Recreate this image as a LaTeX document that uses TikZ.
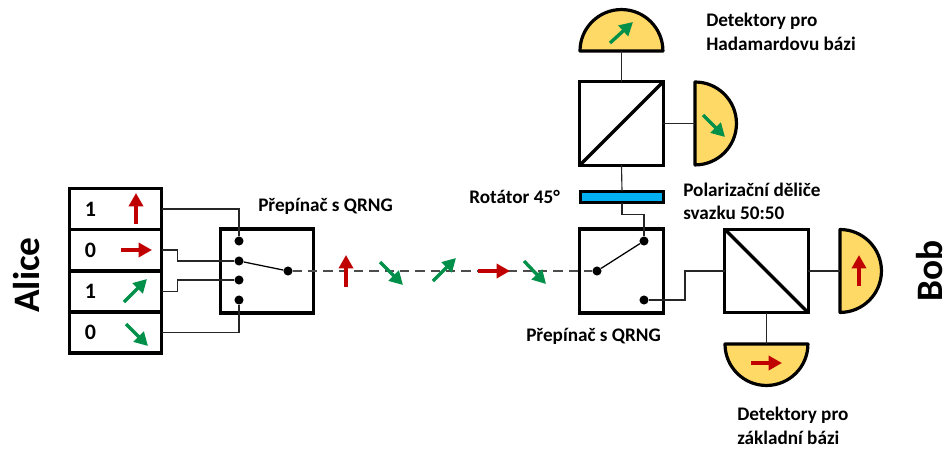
\documentclass[tikz,border=0pt]{standalone}
\usepackage{fontspec}
\setmainfont{Carlito}
\usetikzlibrary{arrows.meta,calc}
\definecolor{redA}{HTML}{C00000}
\definecolor{greenA}{HTML}{00904A}
\definecolor{blueA}{HTML}{00B0F0}
\definecolor{yellowA}{HTML}{FFD966}
\tikzset{
  box/.style={draw=black,line width=2.4pt,fill=white,inner sep=0pt,outer sep=0pt},
  rowbox/.style={box,minimum width=69.4pt,minimum height=30.8pt},
  swbox/.style={box,minimum width=69.4pt,minimum height=63pt},
  cube/.style={box,minimum width=62.5pt,minimum height=62.5pt},
  rotbox/.style={box,fill=blueA,minimum width=62.5pt,minimum height=8.8pt},
  dot/.style={circle,fill=black,inner sep=0pt,minimum size=6.8pt},
  wire/.style={draw=black!85,line width=.85pt},
  arm/.style={draw=black,line width=.95pt},
  beam/.style={draw=black!70,line width=.95pt,dash pattern=on 7pt off 4.5pt},
  split/.style={draw=black,line width=2.4pt,line cap=round},
  detector/.style={draw=black,line width=2.4pt,fill=yellowA,line join=round},
  pol/.style={line width=2.5pt,-{Triangle[length=10pt,width=10.5pt]}},
  redpol/.style={pol,draw=redA,color=redA},
  greenpol/.style={pol,draw=greenA,color=greenA},
  lab/.style={font=\bfseries\fontsize{14.4}{17}\selectfont,inner sep=0pt,anchor=west},
  digit/.style={font=\bfseries\fontsize{16.5}{20}\selectfont,inner sep=0pt},
  who/.style={font=\bfseries\fontsize{28}{33}\selectfont,inner sep=0pt,rotate=90},
}
\begin{document}
\begin{tikzpicture}[x=.75pt,y=-.75pt]
\useasboundingbox (0,0) rectangle (947,450);
\fill[white] (0,0) rectangle (947,450);
% Alice rows
\node[rowbox] (r1) at (115.5,209) {};
\node[rowbox] (r2) at (115.5,250) {};
\node[rowbox] (r3) at (115.5,291.5) {};
\node[rowbox] (r4) at (115.5,332.5) {};
\node[digit] (n1) at (90.5,209) {1};
\node[digit] (n2) at (90.5,250) {0};
\node[digit] (n3) at (90.5,291.5) {1};
\node[digit] (n4) at (90.5,332.5) {0};
\draw[redpol] (136,224) -- (136,193);
\draw[redpol] (121,250) -- (152,250);
\draw[greenpol] (124,302) -- (147,279);
\draw[greenpol] (126,324) -- (148,346);
% left switch
\node[swbox] (sw1) at (267,271) {};
\node[dot] (d1) at (239,241) {};
\node[dot] (d2) at (239,261) {};
\node[dot] (d3) at (239,280) {};
\node[dot] (d4) at (239,300) {};
\node[dot] (p1) at (288,271) {};
% right switch
\node[swbox,minimum width=62.5pt] (sw2) at (621.5,271) {};
\node[dot] (p2) at (597,271) {};
\node[dot] (e1) at (644,241) {};
\node[dot] (e2) at (644,300) {};
% beam
\draw[beam] (p1) -- (p2);
% connectors
\draw[wire] (r1.east) -| (d1);
\draw[wire] (r2.east) -- ++(16,0) |- (d2);
\draw[wire] (r3.east) -- ++(16,0) |- (d3);
\draw[wire] (r4.east) -| (d4);
\draw[arm] (d2) -- (p1);
\draw[arm] (p2) -- (e1);
% optics
\node[rotbox] (rot) at (622,197) {};
\node[cube] (pbsA) at (621.5,123.5) {};
\node[cube] (pbsB) at (766.5,271) {};
\draw[split] (pbsA.south west) -- (pbsA.north east);
\draw[split] (pbsB.north west) -- (pbsB.south east);
\coordinate (topflat) at (621.5,51);
\coordinate (sideflat) at (695,123.5);
\coordinate (rightflat) at (840,271);
\coordinate (downflat) at (766.5,344);
\draw[detector] (580,51) arc[start angle=180,end angle=0,radius=31.1pt] -- cycle;
\draw[detector] (695,82) arc[start angle=90,end angle=-90,radius=31.1pt] -- cycle;
\draw[detector] (840,229.5) arc[start angle=90,end angle=-90,radius=31.1pt] -- cycle;
\draw[detector] (725,344) arc[start angle=180,end angle=360,radius=31.1pt] -- cycle;
\draw[wire] (topflat) -- (pbsA.north);
\draw[wire] (pbsA.east) -- (sideflat);
\draw[wire] (pbsB.east) -- (rightflat);
\draw[wire] (pbsB.south) -- (downflat);
\draw[wire] (pbsA.south) -- (rot.north);
\draw[wire] (rot.south) -- ++(0,12) -| (e1);
\draw[wire] (e2) -- ++(41,0) |- (pbsB.west);
% detector arrows
\draw[greenpol] (610,43) -- (633,22);
\draw[greenpol] (703,115) -- (725,137);
\draw[redpol] (859,286) -- (859,255);
\draw[redpol] (751,363) -- (782,363);
% travelling arrows
\draw[redpol] (346,287) -- (346,255);
\draw[greenpol] (380,262) -- (403,285);
\draw[greenpol] (433,281) -- (456,258);
\draw[redpol] (478,271) -- (510,271);
\draw[greenpol] (524,261) -- (546,284);
% labels
\node[lab] (t1) at (258,206) {Přepínač s QRNG};
\node[lab] (t2) at (526,336) {Přepínač s QRNG};
\node[lab] (t3) at (469,197) {Rotátor 45°};
\node[lab] (t4) at (683,190) {Polarizační děliče};
\node[lab] (t5) at (683,213) {svazku 50:50};
\node[lab] (t6) at (706,21) {Detektory pro};
\node[lab] (t7) at (706,44) {Hadamardovu bázi};
\node[lab] (t8) at (737,415) {Detektory pro};
\node[lab] (t9) at (737,438) {základní bázi};
\node[who] (alice) at (27,275) {Alice};
\node[who] (bob) at (929.5,271) {Bob};
\end{tikzpicture}
\end{document}
